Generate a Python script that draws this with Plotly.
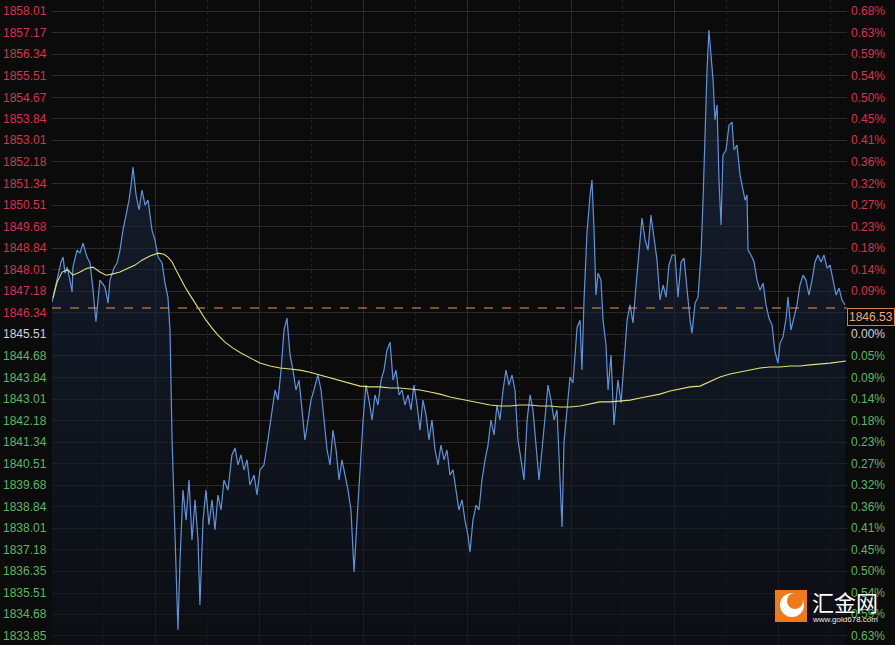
import plotly.graph_objects as go

# ---------------- data ----------------
price_levels = [1858.01, 1857.17, 1856.34, 1855.51, 1854.67, 1853.84, 1853.01, 1852.18,
                1851.34, 1850.51, 1849.68, 1848.84, 1848.01, 1847.18, 1846.34, 1845.51,
                1844.68, 1843.84, 1843.01, 1842.18, 1841.34, 1840.51, 1839.68, 1838.84,
                1838.01, 1837.18, 1836.35, 1835.51, 1834.68, 1833.85]
pct_labels = ["0.68%", "0.63%", "0.59%", "0.54%", "0.50%", "0.45%", "0.41%", "0.36%",
              "0.32%", "0.27%", "0.23%", "0.18%", "0.14%", "0.09%", "0.05%", "0.00%",
              "0.05%", "0.09%", "0.14%", "0.18%", "0.23%", "0.27%", "0.32%", "0.36%",
              "0.41%", "0.45%", "0.50%", "0.54%", "0.59%", "0.63%"]
prev_close = 1846.53

minutes = [0.0, 1.7, 3.5, 5.2, 6.4, 7.5, 8.7, 10.4, 11.6, 12.1, 14.5, 16.2, 17.9, 20.2, 22.0,
           23.7, 25.4, 27.7, 30.6, 32.4, 33.5, 35.8, 37.6, 39.3, 41.0, 42.8, 44.5, 45.7, 46.8,
           48.6, 50.3, 52.0, 53.8, 55.5, 57.8, 59.5, 61.3, 63.6, 65.3, 67.0, 68.2, 69.4, 70.5,
           71.7, 72.8, 74.0, 75.7, 77.5, 79.2, 80.9, 82.7, 84.4, 85.5, 87.3, 89.0, 90.7, 92.5,
           94.2, 95.9, 97.7, 99.4, 101.7, 104.0, 105.8, 107.5, 109.2, 111.0, 112.7, 114.4,
           116.8, 118.5, 120.2, 122.5, 124.8, 127.2, 128.9, 130.6, 132.4, 134.1, 135.8, 137.6,
           139.3, 141.0, 142.8, 144.5, 146.2, 148.0, 149.7, 151.4, 153.7, 155.5, 157.2, 159.0,
           160.7, 162.4, 164.2, 165.9, 167.6, 169.4, 171.1, 172.8, 174.6, 176.3, 178.0, 179.8,
           181.5, 183.2, 185.0, 186.7, 188.4, 190.2, 191.9, 193.6, 195.4, 197.1, 198.8, 200.6,
           202.3, 204.0, 205.8, 207.5, 209.2, 211.0, 212.7, 214.4, 216.2, 217.9, 219.6, 221.4,
           223.1, 224.8, 226.6, 228.3, 230.0, 231.8, 233.5, 235.2, 237.0, 238.7, 240.4, 241.6,
           243.3, 245.1, 246.8, 248.5, 250.3, 252.0, 253.7, 255.5, 257.2, 258.9, 260.7, 262.4,
           264.1, 265.9, 267.6, 269.3, 271.1, 272.8, 274.6, 276.3, 278.0, 279.8, 281.5, 283.2,
           285.0, 286.7, 288.4, 290.2, 291.9, 293.6, 294.8, 295.9, 297.7, 299.4, 301.1, 303.5,
           305.2, 306.3, 307.5, 309.2, 311.0, 312.1, 313.3, 314.4, 315.6, 317.3, 318.5, 320.2,
           321.4, 323.1, 324.8, 326.0, 327.1, 328.9, 330.6, 332.4, 334.1, 335.8, 337.6, 339.3,
           341.0, 342.8, 344.5, 346.2, 348.0, 349.7, 351.4, 353.2, 354.9, 356.6, 358.4, 360.1,
           361.8, 363.6, 365.3, 367.0, 368.8, 369.9, 371.7, 373.4, 375.1, 376.3, 377.4, 378.6,
           379.7, 380.9, 382.1, 383.2, 384.4, 385.5, 386.7, 387.8, 389.6, 391.3, 393.0, 394.2,
           395.9, 397.7, 398.8, 400.6, 401.7, 402.3, 404.0, 405.8, 407.5, 409.2, 411.0, 412.7,
           414.4, 416.2, 417.9, 419.6, 420.8, 422.5, 424.3, 425.4, 427.1, 428.9, 430.6, 432.3,
           434.1, 435.8, 437.5, 439.3, 441.0, 442.7, 444.5, 446.2, 448.0, 449.7, 451.4, 453.2,
           454.9, 456.6, 458.4]

prices = [1846.76, 1847.22, 1847.80, 1848.31, 1848.50, 1847.88, 1848.11, 1847.61, 1847.15,
          1848.11, 1848.77, 1848.65, 1849.04, 1848.50, 1848.27, 1847.22, 1846.00, 1847.61,
          1847.34, 1846.72, 1847.61, 1848.07, 1848.27, 1848.77, 1849.54, 1850.12, 1850.70,
          1851.28, 1851.98, 1850.90, 1850.32, 1851.09, 1850.51, 1850.70, 1849.54, 1849.16,
          1848.50, 1848.27, 1847.49, 1846.95, 1845.68, 1841.43, 1839.11, 1836.01, 1834.08,
          1836.79, 1839.49, 1838.33, 1839.88, 1837.56, 1839.11, 1837.56, 1835.05, 1838.33,
          1839.49, 1838.14, 1839.11, 1837.95, 1839.30, 1838.72, 1839.88, 1839.49, 1840.85,
          1841.12, 1840.46, 1840.85, 1840.27, 1840.66, 1839.69, 1840.07, 1839.30, 1840.27,
          1840.46, 1841.43, 1842.59, 1843.36, 1842.97, 1844.13, 1845.68, 1846.14, 1844.71,
          1844.13, 1843.36, 1843.74, 1842.59, 1841.43, 1842.20, 1842.97, 1843.36, 1843.94,
          1843.36, 1842.20, 1841.04, 1840.46, 1841.81, 1841.04, 1839.88, 1840.66, 1840.07,
          1839.49, 1838.72, 1836.32, 1838.33, 1840.27, 1842.20, 1843.55, 1842.97, 1842.20,
          1843.17, 1842.78, 1843.74, 1844.13, 1844.90, 1845.21, 1843.74, 1844.13, 1843.17,
          1843.36, 1842.78, 1843.17, 1842.59, 1843.55, 1842.78, 1841.81, 1842.97, 1842.39,
          1841.43, 1842.20, 1841.04, 1840.46, 1841.23, 1840.66, 1841.04, 1840.07, 1840.27,
          1839.49, 1838.72, 1839.11, 1838.33, 1837.75, 1837.09, 1838.33, 1838.91, 1838.72,
          1839.88, 1840.66, 1841.23, 1842.20, 1841.62, 1842.78, 1842.20, 1843.36, 1844.13,
          1843.55, 1843.94, 1843.36, 1841.43, 1840.66, 1839.88, 1842.20, 1843.17, 1842.59,
          1841.04, 1839.88, 1841.04, 1842.20, 1843.55, 1842.97, 1842.20, 1842.59, 1839.49,
          1838.06, 1841.31, 1842.59, 1843.86, 1843.63, 1845.79, 1846.06, 1844.13, 1846.84,
          1849.43, 1850.90, 1851.48, 1849.54, 1847.03, 1847.88, 1847.61, 1846.06, 1845.10,
          1843.36, 1844.71, 1842.01, 1842.97, 1843.74, 1842.86, 1844.32, 1846.06, 1846.65,
          1845.95, 1847.42, 1848.77, 1850.01, 1849.16, 1848.77, 1850.12, 1849.16, 1848.38,
          1846.84, 1847.42, 1846.95, 1848.19, 1848.58, 1848.58, 1846.95, 1848.31, 1848.46,
          1847.22, 1846.06, 1845.56, 1846.72, 1846.95, 1848.58, 1850.70, 1853.41, 1855.73,
          1857.28, 1856.12, 1855.34, 1853.80, 1854.38, 1851.48, 1849.74, 1852.44, 1852.64,
          1853.60, 1853.72, 1852.64, 1852.83, 1851.67, 1851.28, 1850.70, 1850.90, 1848.77,
          1848.58, 1848.31, 1847.61, 1847.22, 1847.49, 1846.65, 1846.14, 1845.87, 1844.83,
          1844.40, 1845.17, 1845.41, 1846.14, 1846.95, 1845.68, 1846.18, 1846.65, 1847.42,
          1847.80, 1847.61, 1847.03, 1847.61, 1848.31, 1848.58, 1848.31, 1848.58, 1848.07,
          1848.19, 1847.61, 1847.03, 1847.30, 1846.84, 1846.65]

ma_minutes = [0.6, 2.9, 5.8, 9.2, 12.1, 16.2, 20.2, 23.7, 27.7, 31.2, 34.7, 39.3, 43.9, 48.0,
              52.0, 56.6, 61.3, 64.7, 67.0, 69.4, 71.7, 74.0, 76.9, 79.8, 82.7, 85.5, 89.0,
              92.5, 95.9, 100.0, 104.6, 109.2, 114.4, 120.2, 126.0, 131.8, 137.6, 143.3, 149.1,
              154.9, 160.7, 166.5, 172.2, 178.0, 183.8, 189.6, 195.4, 201.1, 206.9, 212.7,
              218.5, 224.3, 230.0, 235.8, 241.6, 247.4, 253.2, 258.9, 264.7, 270.5, 276.3,
              282.1, 287.8, 293.6, 299.4, 305.2, 311.0, 316.7, 322.5, 328.3, 334.1, 339.9,
              345.6, 351.4, 357.2, 363.0, 368.8, 374.5, 380.3, 386.1, 391.9, 397.7, 403.4,
              409.2, 415.0, 420.8, 426.6, 432.3, 438.1, 443.9, 449.7, 458.9]
ma_prices = [1846.92, 1847.53, 1847.92, 1848.00, 1847.80, 1847.92, 1848.07, 1848.11, 1847.92,
             1847.80, 1847.84, 1847.92, 1848.07, 1848.19, 1848.38, 1848.54, 1848.65, 1848.61,
             1848.50, 1848.31, 1848.00, 1847.69, 1847.34, 1847.03, 1846.72, 1846.41, 1846.06,
             1845.75, 1845.48, 1845.21, 1844.98, 1844.79, 1844.60, 1844.40, 1844.29, 1844.21,
             1844.17, 1844.13, 1844.05, 1843.94, 1843.82, 1843.71, 1843.59, 1843.51, 1843.48,
             1843.48, 1843.44, 1843.44, 1843.40, 1843.36, 1843.28, 1843.20, 1843.09, 1843.01,
             1842.93, 1842.86, 1842.78, 1842.74, 1842.74, 1842.78, 1842.78, 1842.74, 1842.74,
             1842.70, 1842.70, 1842.74, 1842.82, 1842.90, 1842.90, 1842.93, 1842.97, 1843.05,
             1843.13, 1843.20, 1843.32, 1843.40, 1843.48, 1843.51, 1843.67, 1843.86, 1843.98,
             1844.05, 1844.13, 1844.21, 1844.25, 1844.25, 1844.29, 1844.29, 1844.33, 1844.36,
             1844.40, 1844.48]

# ---------------- styling ----------------
BG = "#0b0b0b"
RED = "#d9324a"
GREEN = "#5fb65f"
NEUTRAL = "#d0d0d0"
FONT = "Liberation Sans, Arial, sans-serif"

fig = go.Figure()

fig.add_trace(go.Scatter(
    x=minutes, y=prices, mode="lines",
    line=dict(color="#5f93dd", width=1.2),
    fill="tozeroy",
    fillgradient=dict(type="vertical",
                      colorscale=[[0, "rgba(12,16,24,0.6)"], [1, "rgba(30,48,78,0.55)"]],
                      start=1833.5, stop=1857.5),
    hoverinfo="skip", showlegend=False))

fig.add_trace(go.Scatter(
    x=ma_minutes, y=ma_prices, mode="lines",
    line=dict(color="#e2e07a", width=1.1),
    hoverinfo="skip", showlegend=False))

fig.add_hline(y=prev_close, line=dict(color="#e8955a", width=1, dash="dash"))

annotations = []
n0 = price_levels.index(1845.51)
for i, (v, p) in enumerate(zip(price_levels, pct_labels)):
    col = RED if i < n0 else (NEUTRAL if i == n0 else GREEN)
    annotations.append(dict(x=0, xref="paper", y=v, yref="y", text=f"{v:.2f}",
                            xanchor="right", yanchor="middle", xshift=-3, showarrow=False,
                            font=dict(family=FONT, size=12, color=col)))
    annotations.append(dict(x=1, xref="paper", y=v, yref="y", text=p,
                            xanchor="left", yanchor="middle", xshift=2, showarrow=False,
                            font=dict(family=FONT, size=12, color=col)))

annotations.append(dict(x=1, xref="paper", y=prev_close, yref="y", text=f"{prev_close:.2f}",
                        xanchor="left", yanchor="top", xshift=0, showarrow=False,
                        bgcolor=BG, bordercolor="#e07a4a", borderwidth=1, borderpad=1,
                        font=dict(family=FONT, size=12, color="#f2a67c")))

# logo text
annotations.append(dict(x=0.998, xref="paper", y=0.068, yref="paper", text="汇金网",
                        xanchor="center", yanchor="middle", showarrow=False,
                        font=dict(family="Noto Sans CJK SC", size=22, color="#ffffff")))
annotations.append(dict(x=0.998, xref="paper", y=0.040, yref="paper", text="www.gold678.com",
                        xanchor="center", yanchor="middle", showarrow=False,
                        font=dict(family=FONT, size=8, color="#e8e8e8")))

shapes = [
    dict(type="line", xref="paper", yref="paper", x0=1, x1=1, y0=0, y1=1,
         line=dict(color="#3a3a3a", width=1, dash="dot"), layer="above"),
    dict(type="rect", xref="paper", yref="paper", x0=0.9094, x1=0.9497, y0=0.0357, y1=0.0853,
         fillcolor="#f07a1a", line=dict(width=0), layer="above"),
    dict(type="circle", xref="paper", yref="paper", x0=0.9157, x1=0.9459, y0=0.0434, y1=0.0806,
         fillcolor="#ffffff", line=dict(width=0), layer="above"),
    dict(type="circle", xref="paper", yref="paper", x0=0.9245, x1=0.9447, y0=0.0558, y1=0.0806,
         fillcolor="#f07a1a", line=dict(width=0), layer="above"),
]

fig.update_layout(
    width=895, height=645,
    margin=dict(l=52, r=48, t=0, b=0),
    paper_bgcolor=BG, plot_bgcolor=BG,
    showlegend=False, hovermode=False,
    annotations=annotations, shapes=shapes,
    xaxis=dict(range=[0, 459.5], tickvals=[0, 60, 120, 180, 240, 300, 360, 420],
               showticklabels=False, showgrid=True, gridcolor="#2a2a2a", gridwidth=1,
               zeroline=False, showline=False, fixedrange=True,
               minor=dict(tickvals=[30, 90, 150, 210, 270, 330, 390, 450], showgrid=True,
                          gridcolor="#222222", griddash="dot")),
    yaxis=dict(range=[1833.50, 1858.44], tickvals=price_levels, showticklabels=False,
               showgrid=True, gridcolor="#2a2a2a", gridwidth=1, zeroline=False,
               showline=False, fixedrange=True),
)

fig.write_html("out.html", config={"displayModeBar": False},
               post_script="document.body.style.margin='0';document.body.style.background='#0b0b0b';")
